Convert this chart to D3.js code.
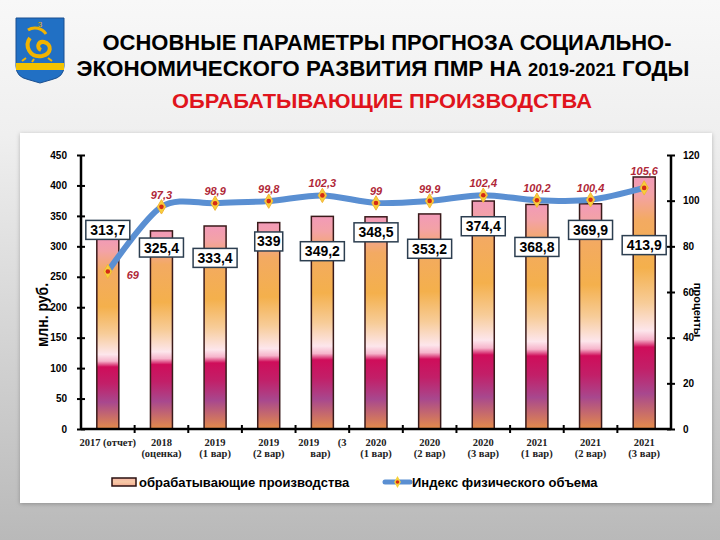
<!DOCTYPE html>
<html><head><meta charset="utf-8">
<script src="https://cdn.jsdelivr.net/npm/d3@7"></script>
<style>html,body{margin:0;padding:0;}svg{display:block;}</style>
</head><body>
<script>
// ---- data ----
const categories = ["2017 (отчет)","2018 (оценка)","2019 (1 вар)","2019 (2 вар)","2019 (3 вар)","2020 (1 вар)","2020 (2 вар)","2020 (3 вар)","2021 (1 вар)","2021 (2 вар)","2021 (3 вар)"];
const categoryLines = [["2017 (отчет)"],["2018","(оценка)"],["2019","(1 вар)"],["2019","(2 вар)"],["2019\u00a0\u00a0\u00a0\u00a0\u00a0\u00a0\u00a0(3","вар)"],["2020","(1 вар)"],["2020","(2 вар)"],["2020","(3 вар)"],["2021","(1 вар)"],["2021","(2 вар)"],["2021","(3 вар)"]];
const production = [313.7,325.4,333.4,339,349.2,348.5,353.2,374.4,368.8,369.9,413.9];
const volumeIndex = [69,97.3,98.9,99.8,102.3,99,99.9,102.4,100.2,100.4,105.6];
const leftTicks = [0,50,100,150,200,250,300,350,400,450];
const rightTicks = [0,20,40,60,80,100,120];
const fmt = v => String(v).replace(".", ",");

// ---- layout (positions for label boxes, in left-axis units) ----
const boxLevels = [327,298,281,308,292,323,296,333,299,327,302];

const W = 720, H = 540;
const svg = d3.select("body").append("svg").attr("width", W).attr("height", H);
const defs = svg.append("defs");

const bg = defs.append("linearGradient").attr("id","bg").attr("x1",0).attr("y1",0).attr("x2",0).attr("y2",1);
[[0,"#f8f8f8"],[0.25,"#efefef"],[0.6,"#d6d6d6"],[1,"#b9b9b9"]].forEach(s=>bg.append("stop").attr("offset",s[0]).attr("stop-color",s[1]));

const bar = defs.append("linearGradient").attr("id","barg").attr("x1",0).attr("y1",0).attr("x2",0).attr("y2",1);
[[0,"#f29ab8"],[0.07,"#f3a2a6"],[0.17,"#f3aa62"],[0.36,"#f4b04c"],[0.5,"#f7cc98"],[0.61,"#fde6ec"],[0.645,"#f6b4cb"],[0.675,"#cf0d5a"],[0.76,"#c21f68"],[0.86,"#a8488e"],[1,"#e48c4a"]]
  .forEach(s=>bar.append("stop").attr("offset",s[0]).attr("stop-color",s[1]));
const leg = defs.append("linearGradient").attr("id","legg").attr("x1",0).attr("y1",0).attr("x2",0).attr("y2",1);
[[0,"#f6b6a8"],[0.5,"#f7caa6"],[1,"#f2a890"]].forEach(s=>leg.append("stop").attr("offset",s[0]).attr("stop-color",s[1]));
const sh = defs.append("filter").attr("id","shadow").attr("x","-5%").attr("y","-5%").attr("width","110%").attr("height","110%");
sh.append("feDropShadow").attr("dx",0).attr("dy",1).attr("stdDeviation",2).attr("flood-color","#000").attr("flood-opacity",0.25);

svg.append("rect").attr("width",W).attr("height",H).attr("fill","url(#bg)");
svg.append("rect").attr("x",20).attr("y",133).attr("width",692).attr("height",370).attr("fill","#fff").attr("filter","url(#shadow)");

// ---- emblem ----
const em = svg.append("g");
em.append("path").attr("d","M16,18 H64 V66 Q64,77 52,79.5 L40,83 L28,79.5 Q16,77 16,66 Z").attr("fill","#2170c4").attr("stroke","#1a4f90").attr("stroke-width",1);
em.append("rect").attr("x",16).attr("y",63).attr("width",48).attr("height",7).attr("fill","#f3c300");
em.append("path").attr("d","M30,38 C24,46 30,58 42,56 C52,54 52,44 44,42 C38,41 36,48 41,50").attr("fill","none").attr("stroke","#f2b300").attr("stroke-width",4);
em.append("path").attr("d","M28,30 C34,26 42,28 46,34").attr("fill","none").attr("stroke","#f2b300").attr("stroke-width",3);
em.append("path").attr("d","M26,58 L22,61 M34,59 L32,62 M48,58 L52,61").attr("stroke","#f2b300").attr("stroke-width",2);
em.append("text").attr("x",40).attr("y",27).attr("text-anchor","middle").attr("font-size",8).attr("font-family","Liberation Sans, Arial").attr("fill","#f2b300").text("3");

// ---- titles ----
const tf = "'Liberation Sans Narrow','Arial Narrow','Liberation Sans',Arial,sans-serif";
svg.append("text").attr("x",387).attr("y",50).attr("text-anchor","middle").attr("font-family",tf).attr("font-weight","bold").attr("font-size",22)
  .attr("textLength",569).attr("lengthAdjust","spacingAndGlyphs").attr("fill","#000").text("ОСНОВНЫЕ ПАРАМЕТРЫ ПРОГНОЗА СОЦИАЛЬНО-");
const t2 = svg.append("text").attr("x",383).attr("y",76).attr("text-anchor","middle").attr("font-family",tf).attr("font-weight","bold").attr("font-size",22)
  .attr("textLength",613).attr("lengthAdjust","spacingAndGlyphs").attr("fill","#000");
t2.append("tspan").text("ЭКОНОМИЧЕСКОГО РАЗВИТИЯ ПМР НА ");
t2.append("tspan").attr("font-size",18).text("2019-2021");
t2.append("tspan").text(" ГОДЫ");
svg.append("text").attr("x",382).attr("y",108).attr("text-anchor","middle").attr("font-family",tf).attr("font-weight","bold").attr("font-size",21)
  .attr("textLength",420).attr("lengthAdjust","spacingAndGlyphs").attr("fill","#e0141c").text("ОБРАБАТЫВАЮЩИЕ ПРОИЗВОДСТВА");

// ---- scales ----
const x0 = 81, x1 = 671, yB = 429, yT = 155;
const xb = d3.scaleBand().domain(categories).range([x0,x1]);
const y = d3.scaleLinear().domain([0,450]).range([yB,yT]);
const y2 = d3.scaleLinear().domain([0,120]).range([yB,yT]);
const sf = "'Liberation Sans',Arial,sans-serif";

// bars
svg.append("g").selectAll("rect").data(production).join("rect")
  .attr("x",(d,i)=>xb(categories[i]) + xb.bandwidth()/2 - 11)
  .attr("width",22)
  .attr("y",d=>y(d)).attr("height",d=>yB - y(d))
  .attr("fill","url(#barg)").attr("stroke","#3a1a1a").attr("stroke-width",1.5);

// axes
const ax = svg.append("g").attr("transform",`translate(${x0},0)`)
  .call(d3.axisLeft(y).tickValues(leftTicks).tickSize(4).tickPadding(10).tickFormat(d=>d));
ax.select(".domain").attr("stroke","#000").attr("stroke-width",2.5).attr("d",`M0,${yB}V${yT}`);
ax.selectAll(".tick line").attr("x1",4).attr("x2",-4).attr("stroke","#000").attr("stroke-width",2);
ax.selectAll(".tick text").attr("font-family",sf).attr("font-weight","bold").attr("font-size",10).attr("fill","#000");

const ax2 = svg.append("g").attr("transform",`translate(${x1},0)`)
  .call(d3.axisRight(y2).tickValues(rightTicks).tickSize(4).tickPadding(8).tickFormat(d=>d));
ax2.select(".domain").attr("stroke","#000").attr("stroke-width",2.5).attr("d",`M0,${yB}V${yT}`);
ax2.selectAll(".tick line").attr("x1",-4).attr("x2",4).attr("stroke","#000").attr("stroke-width",2);
ax2.selectAll(".tick text").attr("font-family",sf).attr("font-weight","bold").attr("font-size",10).attr("fill","#000");

const axb = svg.append("g").attr("transform",`translate(0,${yB})`)
  .call(d3.axisBottom(xb).tickSize(0).tickFormat(""));
axb.select(".domain").attr("stroke","#000").attr("stroke-width",2.5).attr("d",`M${x0},0H${x1}`);
axb.selectAll(".tick line").remove();
svg.append("g").selectAll("line").data(categories.slice(1)).join("line")
  .attr("x1",d=>xb(d)).attr("x2",d=>xb(d)).attr("y1",yB-4).attr("y2",yB+4).attr("stroke","#000").attr("stroke-width",2);

// category labels
const cl = svg.append("g").attr("font-family","'Liberation Serif','Times New Roman',serif").attr("font-weight","bold").attr("font-size",10.5).attr("fill","#222");
categoryLines.forEach((lines,i)=>{
  const cx = xb(categories[i]) + xb.bandwidth()/2;
  lines.forEach((ln,j)=>{
    cl.append("text").attr("x", i===4 && j===1 ? cx-2 : cx).attr("y",446 + j*11).attr("text-anchor","middle").style("white-space","pre").text(ln);
  });
});

// axis titles
svg.append("text").attr("transform","translate(48,315) rotate(-90)").attr("text-anchor","middle")
  .attr("font-family",sf).attr("font-weight","bold").attr("font-size",16).attr("textLength",64).attr("lengthAdjust","spacingAndGlyphs")
  .attr("fill","#000").text("млн. руб.");
svg.append("text").attr("transform","translate(694,310) rotate(90)").attr("text-anchor","middle")
  .attr("font-family",sf).attr("font-weight","bold").attr("font-size",11).attr("fill","#000").text("проценты");

// line
const cxOf = i => xb(categories[i]) + xb.bandwidth()/2;
svg.append("path").datum(volumeIndex)
  .attr("d", d3.line().x((d,i)=>cxOf(i)).y(d=>y2(d)).curve(d3.curveCardinal.tension(0.1)))
  .attr("fill","none").attr("stroke","#5a8fd2").attr("stroke-width",6).attr("stroke-linecap","round");

const mk = svg.append("g").selectAll("g").data(volumeIndex).join("g").attr("transform",(d,i)=>`translate(${cxOf(i)},${y2(d)})`);
mk.append("path").attr("d",d3.symbol(d3.symbolDiamond, 60)).attr("fill","#f7d13a").attr("stroke","#f2b43a").attr("stroke-width",1);
mk.append("circle").attr("r",2.3).attr("fill","#d42a14");

// index labels
svg.append("g").selectAll("text").data(volumeIndex).join("text")
  .attr("x",(d,i)=> i===0 ? cxOf(i)+25 : cxOf(i))
  .attr("y",(d,i)=> i===0 ? y2(d)+8 : (i===10 ? y2(d)-13 : y2(d)-8))
  .attr("text-anchor","middle").attr("font-family",sf).attr("font-style","italic").attr("font-weight","bold").attr("font-size",11)
  .attr("fill","#b02838").text(d=>fmt(d));

// value boxes
const vb = svg.append("g").selectAll("g").data(production).join("g")
  .attr("transform",(d,i)=>`translate(${cxOf(i)},${y(boxLevels[i])})`);
vb.append("rect").attr("x",d=>String(d).length>3? -22 : -14).attr("width",d=>String(d).length>3? 44 : 28)
  .attr("y",-9.5).attr("height",19).attr("fill","#fff").attr("stroke","#2c3e50").attr("stroke-width",1.5);
vb.append("text").attr("y",5).attr("text-anchor","middle").attr("font-family",sf).attr("font-weight","bold").attr("font-size",14).attr("fill","#000").text(d=>fmt(d));

// legend
svg.append("rect").attr("x",112).attr("y",478).attr("width",24).attr("height",8).attr("fill","url(#legg)").attr("stroke","#2a1010").attr("stroke-width",1.5);
svg.append("text").attr("x",139).attr("y",487).attr("font-family",sf).attr("font-weight","bold").attr("font-size",13).attr("fill","#000").text("обрабатывающие производства");
svg.append("line").attr("x1",385).attr("x2",410).attr("y1",482).attr("y2",482).attr("stroke","#5a8fd2").attr("stroke-width",5).attr("stroke-linecap","round");
svg.append("path").attr("transform","translate(397.5,482)").attr("d",d3.symbol(d3.symbolDiamond, 40)).attr("fill","#f7d13a");
svg.append("circle").attr("cx",397.5).attr("cy",482).attr("r",1.8).attr("fill","#d42a14");
svg.append("text").attr("x",412).attr("y",487).attr("font-family",sf).attr("font-weight","bold").attr("font-size",13).attr("fill","#000").text("Индекс физического объема");
</script>
</body></html>
